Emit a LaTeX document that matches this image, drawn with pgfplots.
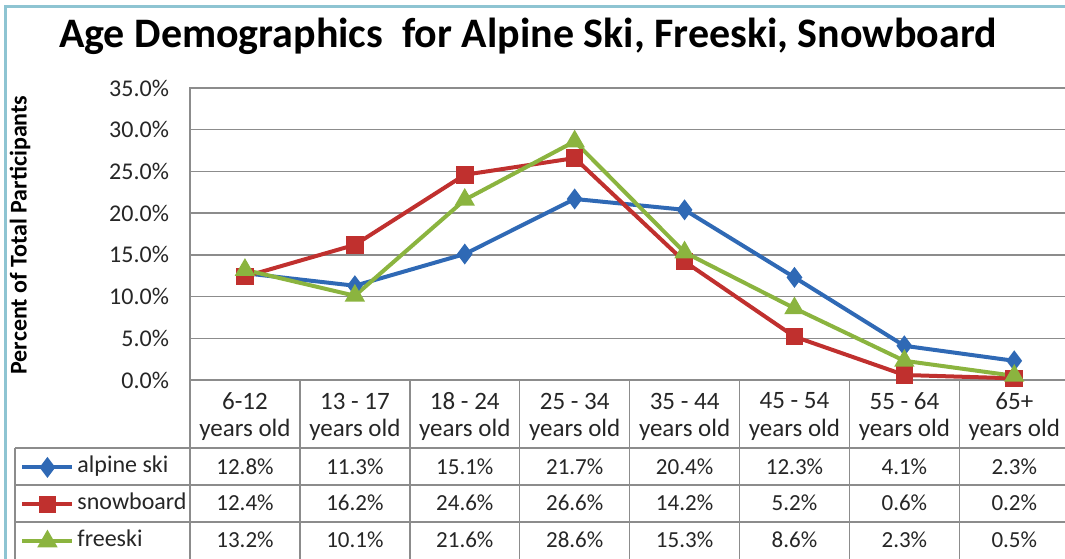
\documentclass[border=0pt]{standalone}
\usepackage{fontspec}
\setmainfont{Carlito}
\usepackage{pgfplots}
\pgfplotsset{compat=1.18}
\definecolor{cBlue}{HTML}{2F69B5}
\definecolor{cRed}{HTML}{C0302E}
\definecolor{cGreen}{HTML}{8BB43F}
\definecolor{cGrid}{HTML}{8C8C8C}
\definecolor{cFrame}{HTML}{8EC4D2}
\definecolor{cText}{HTML}{262626}
\begin{document}
\begin{tikzpicture}
\path[use as bounding box] (0,0) rectangle (532.5pt,279pt);
\begin{axis}[
  at={(95pt,89pt)}, anchor=south west,
  scale only axis, width=439.6pt, height=146pt,
  xmin=-0.5, xmax=7.5, ymin=0, ymax=35,
  xtick=\empty, ytick={0,5,...,35},
  ymajorgrids, grid style={cGrid, line width=0.75pt},
  axis line style={cGrid, line width=0.75pt},
  major tick length=0pt,
  /pgf/number format/assume math mode=true,
  yticklabel={\pgfmathprintnumber[fixed,fixed zerofill,precision=1]{\tick}\%},
  yticklabel style={font=\fontsize{12}{14}\selectfont, text=cText, xshift=-7pt},
  clip=false,
  legend cell align=left,
  legend image code/.code={\draw[mark repeat=2,mark phase=2] plot coordinates {(0pt,0pt) (12.5pt,0pt) (25pt,0pt)};},
  legend style={at={(-0.1933,-0.2637)}, anchor=north west, draw=none, fill=none,
    inner sep=0pt, row sep=8.5pt, column sep=1.5pt,
    nodes={inner sep=0pt, text height=7.5pt, text depth=2.5pt, font=\fontsize{12}{14}\selectfont, text=cText}},
]
\addplot[cBlue, line width=2pt, mark=diamond*, mark size=3.6pt] coordinates {(0,12.8) (1,11.3) (2,15.1) (3,21.7) (4,20.4) (5,12.3) (6,4.1) (7,2.3)};
\addlegendentry{alpine ski}
\addplot[cRed, line width=2pt, mark=square*, mark size=3.4pt] coordinates {(0,12.4) (1,16.2) (2,24.6) (3,26.6) (4,14.2) (5,5.2) (6,0.6) (7,0.2)};
\addlegendentry{snowboard}
\addplot[cGreen, line width=2pt, mark=triangle*, mark size=3.9pt] coordinates {(0,13.2) (1,10.1) (2,21.6) (3,28.6) (4,15.3) (5,8.6) (6,2.3) (7,0.5)};
\addlegendentry{freeski}
\end{axis}
\begin{scope}[shift={(0,279pt)}, x=0.5pt, y=-0.5pt]
  % frame
  \draw[cFrame, line width=1.5pt] (5,560) -- (5,7) -- (1070,7);
  % title
  \node[font=\bfseries\fontsize{21}{25}\selectfont] at (528,36) {Age Demographics\ \ for Alpine Ski, Freeski, Snowboard};
  % y label
  \node[rotate=90, font=\bfseries\fontsize{12}{14}\selectfont, text=black] at (20,235) {Percent of Total Participants};
  % table lines
  \foreach \yy in {448,485,522} \draw[cGrid, line width=0.75pt] (15,\yy) -- (1070,\yy);
  \draw[cGrid, line width=0.75pt] (15,448) -- (15,560);
  \foreach \k in {0,...,7} \draw[cGrid, line width=0.75pt] ({190+\k*109.9},380) -- ({190+\k*109.9},560);
  % header
  \foreach \lab [count=\i from 0] in {6-12,13 - 17,18 - 24,25 - 34,35 - 44,45 - 54,55 - 64,65+} {
    \node[font=\fontsize{12.5}{14}\selectfont, text=cText] at ({245+\i*109.9},401) {\lab};
    \node[font=\fontsize{12.5}{14}\selectfont, text=cText] at ({245+\i*109.9},430) {years old};
  }
  \foreach \v [count=\i from 0] in {12.8,11.3,15.1,21.7,20.4,12.3,4.1,2.3}
    \node[font=\fontsize{11.5}{14}\selectfont, text=cText] at ({245+\i*109.9},467) {\v\%};
  \foreach \v [count=\i from 0] in {12.4,16.2,24.6,26.6,14.2,5.2,0.6,0.2}
    \node[font=\fontsize{11.5}{14}\selectfont, text=cText] at ({245+\i*109.9},503) {\v\%};
  \foreach \v [count=\i from 0] in {13.2,10.1,21.6,28.6,15.3,8.6,2.3,0.5}
    \node[font=\fontsize{11.5}{14}\selectfont, text=cText] at ({245+\i*109.9},540) {\v\%};
\end{scope}
\end{tikzpicture}
\end{document}
